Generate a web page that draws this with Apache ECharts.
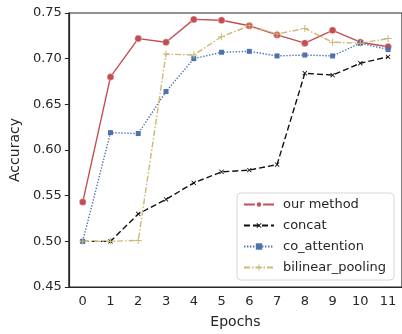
<!DOCTYPE html>
<html>
<head>
<meta charset="utf-8">
<script src="https://cdn.jsdelivr.net/npm/echarts@6/dist/echarts.min.js"></script>
<style>
  html, body { margin: 0; padding: 0; background: #fff; }
  #chart { width: 402px; height: 334px; }
</style>
</head>
<body>
<div id="chart"></div>
<script>
// values
var epochs = ['0', '1', '2', '3', '4', '5', '6', '7', '8', '9', '10', '11'];
var ourMethod = [0.543, 0.680, 0.722, 0.718, 0.743, 0.742, 0.736, 0.726, 0.717, 0.731, 0.718, 0.713];
var concat = [0.500, 0.500, 0.530, 0.546, 0.564, 0.576, 0.578, 0.584, 0.684, 0.682, 0.695, 0.702];
var coAttention = [0.500, 0.619, 0.618, 0.664, 0.700, 0.707, 0.708, 0.703, 0.704, 0.703, 0.717, 0.710];
var bilinearPooling = [0.500, 0.500, 0.501, 0.705, 0.704, 0.724, 0.736, 0.727, 0.733, 0.718, 0.717, 0.722];
var yTicks = { min: 0.45, max: 0.75, step: 0.05 };

var plusPath = 'path://M4.3,0H5.7V4.3H10V5.7H5.7V10H4.3V5.7H0V4.3H4.3Z';
var font = 'DejaVu Sans';
var textColor = '#262626';

var myChart = echarts.init(document.getElementById('chart'), null, { renderer: 'canvas' });

function makeSeries(name, data, color, dash, symbol, size, rotate) {
    return {
        name: name,
        type: 'line',
        data: data,
        symbol: symbol,
        symbolSize: size,
        symbolRotate: rotate || 0,
        showSymbol: true,
        itemStyle: { color: color, borderColor: symbol === 'circle' ? '#fff' : color, borderWidth: symbol === 'circle' ? 0.4 : 0 },
        lineStyle: { color: color, width: 1.4, type: dash },
        emphasis: { disabled: true },
        animation: false
    };
}

var option = {
    animation: false,
    grid: {
        left: 64, right: -2, top: 13, bottom: 44,
        show: true, borderColor: '#262626', borderWidth: 1.2, backgroundColor: 'transparent'
    },
    legend: {
        orient: 'vertical',
        left: 237, top: 193,
        width: 157,
        backgroundColor: 'rgba(255,255,255,0.85)',
        borderColor: '#d6d6d6', borderWidth: 1, borderRadius: 4,
        padding: [5, 8, 6, 6],
        itemWidth: 30, itemHeight: 8, itemGap: 8,
        textStyle: { fontFamily: font, fontSize: 13, color: textColor, padding: [0, 0, 0, 4] },
        data: ['our method', 'concat', 'co_attention', 'bilinear_pooling']
    },
    xAxis: {
        type: 'category',
        data: epochs,
        boundaryGap: true,
        name: 'Epochs',
        nameLocation: 'middle',
        nameGap: 28,
        nameTextStyle: { fontFamily: font, fontSize: 14, color: textColor },
        axisLine: { lineStyle: { color: '#262626', width: 1.2 } },
        axisTick: { alignWithLabel: true, length: 4, lineStyle: { color: '#262626' } },
        axisLabel: { fontFamily: font, fontSize: 13, color: textColor, margin: 8, interval: 0 },
        splitLine: { show: false }
    },
    yAxis: {
        type: 'value',
        min: yTicks.min, max: yTicks.max, interval: yTicks.step,
        name: 'Accuracy',
        nameLocation: 'middle',
        nameGap: 46,
        nameTextStyle: { fontFamily: font, fontSize: 14, color: textColor },
        axisLine: { show: true, lineStyle: { color: '#262626', width: 1.2 } },
        axisTick: { show: true, length: 4, lineStyle: { color: '#262626' } },
        axisLabel: {
            fontFamily: font, fontSize: 13, color: textColor, margin: 7,
            formatter: function (v) { return v.toFixed(2); }
        },
        splitLine: { show: false }
    },
    series: [
        makeSeries('our method', ourMethod, '#C44E52', 'solid', 'circle', 7),
        makeSeries('concat', concat, '#111111', [6, 3], plusPath, 6, 45),
        makeSeries('co_attention', coAttention, '#4C72B0', [1.4, 1.6], 'rect', 5),
        makeSeries('bilinear_pooling', bilinearPooling, '#CCB974', [6, 2, 1.5, 2], plusPath, 7)
    ]
};

myChart.setOption(option);
</script>
</body>
</html>
